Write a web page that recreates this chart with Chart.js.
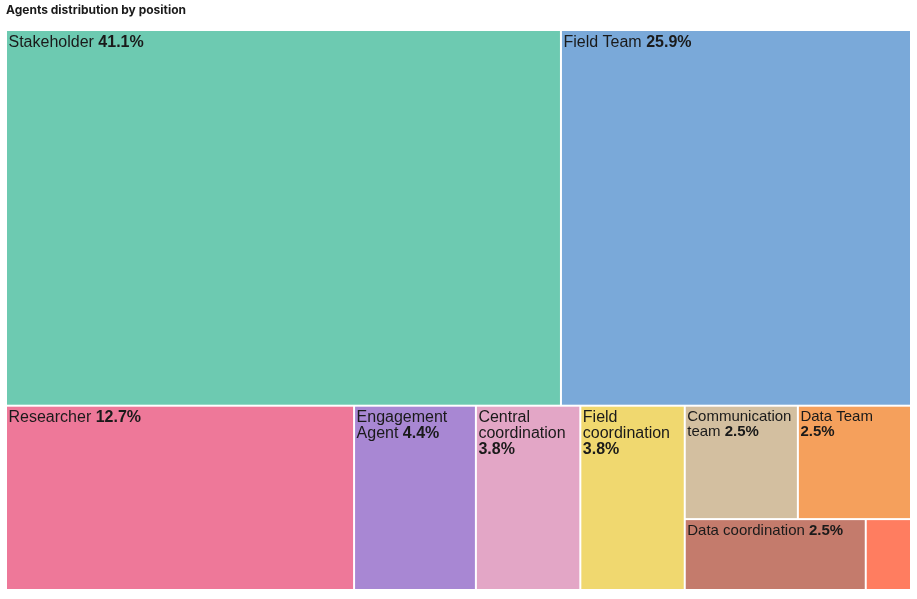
<!DOCTYPE html>
<html>
<head>
<meta charset="utf-8">
<script src="https://cdn.jsdelivr.net/npm/chart.js@4.4.0/dist/chart.umd.min.js"></script>
<style>
  html, body { margin: 0; padding: 0; background: #fff; }
  #wrap { width: 917px; height: 599px; }
</style>
</head>
<body>
<div id="wrap"><canvas id="tree"></canvas></div>
<script>
// agents per position (percentages come out of these counts)
const positions = ['Stakeholder', 'Field Team', 'Researcher', 'Engagement Agent', 'Central coordination',
  'Field coordination', 'Communication team', 'Data Team', 'Data coordination', 'Other'];
const agents = [65, 41, 20, 7, 6, 6, 4, 4, 4, 1];
const colors = ['#6dcab1', '#7aa9d9', '#ee7899', '#a887d3', '#e3a6c6',
  '#f0d86f', '#d3bfa0', '#f5a05c', '#c47b6c', '#ff7d60'];

const GOLDEN = (1 + Math.sqrt(5)) / 2;
const LABEL_FONT = "'Liberation Sans', Arial, sans-serif";

// squarified layout, biased toward wide cells (golden ratio)
function squarify(items, x0, y0, w, h, out) {
  if (!items.length) return;
  const vertical = w / GOLDEN <= h;
  const side = vertical ? w : h;
  let n = 0, prev = Infinity, sum = 0;
  while (n < items.length) {
    const s = sum + items[n].area;
    const thick = s / side;
    let worst = 0;
    for (let i = 0; i <= n; i++) {
      const len = items[i].area / thick;
      worst = Math.max(worst, len / thick, thick / len);
    }
    if (worst > prev) break;
    prev = worst; sum = s; n++;
  }
  const thick = sum / side;
  let pos = 0;
  for (let i = 0; i < n; i++) {
    const len = items[i].area / thick;
    if (vertical) out.push({ i: items[i].i, x: x0 + pos, y: y0, w: len, h: thick });
    else out.push({ i: items[i].i, x: x0, y: y0 + pos, w: thick, h: len });
    pos += len;
  }
  const rest = items.slice(n);
  if (vertical) squarify(rest, x0, y0 + thick, w, h - thick, out);
  else squarify(rest, x0 + thick, y0, w - thick, h, out);
}

function wrapTokens(ctx, tokens, size, maxW) {
  const lines = [];
  let line = [], lineW = 0;
  ctx.font = size + 'px ' + LABEL_FONT;
  const space = ctx.measureText(' ').width;
  for (const t of tokens) {
    ctx.font = (t.bold ? 'bold ' : '') + size + 'px ' + LABEL_FONT;
    const tw = ctx.measureText(t.text).width;
    if (tw > maxW) return null;
    const add = line.length ? space + tw : tw;
    if (line.length && lineW + add > maxW) {
      lines.push(line);
      line = [t]; lineW = tw;
    } else {
      line.push(t); lineW += add;
    }
    t.w = tw;
  }
  if (line.length) lines.push(line);
  return { lines, space };
}

const treemapPlugin = {
  id: 'treemap',
  afterDatasetsDraw(chart) {
    const { ctx, chartArea, scales: { x, y } } = chart;
    const W = chartArea.right - chartArea.left;
    const H = chartArea.bottom - chartArea.top;
    const total = agents.reduce((a, b) => a + b, 0);
    const items = agents.map((v, i) => ({ i, v, area: v / total * W * H }))
      .sort((a, b) => b.v - a.v);
    const cells = [];
    squarify(items, 0, 0, W, H, cells);

    ctx.save();
    cells.forEach(c => {
      const left = x.getPixelForValue(c.x / W);
      const right = x.getPixelForValue((c.x + c.w) / W);
      const top = y.getPixelForValue(c.y / H);
      const bottom = y.getPixelForValue((c.y + c.h) / H);
      ctx.fillStyle = colors[c.i];
      ctx.fillRect(left + 1, top + 1, right - left - 2, bottom - top - 2);

      // label: name words + bold share
      const pct = (agents[c.i] / total * 100).toFixed(1) + '%';
      const tokens = positions[c.i].split(' ').map(t => ({ text: t, bold: false }));
      tokens.push({ text: pct, bold: true });
      const cw = right - left, ch = bottom - top;
      const size = Math.min(16, Math.floor(Math.sqrt(cw * ch) / 7.5));
      if (size < 10) return;
      const wrapped = wrapTokens(ctx, tokens, size, cw - 5);
      if (!wrapped || wrapped.lines.length * size + 4 > ch) return;
      ctx.fillStyle = '#1a1a1a';
      ctx.textBaseline = 'alphabetic';
      wrapped.lines.forEach((line, li) => {
        let tx = left + 2.5;
        const ty = top + size + 0.5 + li * size;
        line.forEach(t => {
          ctx.font = (t.bold ? 'bold ' : '') + size + 'px ' + LABEL_FONT;
          ctx.fillText(t.text, tx, ty);
          tx += t.w + wrapped.space;
        });
      });
    });
    ctx.restore();
  }
};

new Chart(document.getElementById('tree'), {
  type: 'scatter',
  data: {
    labels: positions,
    datasets: [{ label: 'Agents', data: [] }]
  },
  options: {
    responsive: true,
    maintainAspectRatio: false,
    animation: false,
    layout: { padding: { left: 6, right: 6, top: 0, bottom: 9 } },
    scales: {
      x: { type: 'linear', min: 0, max: 1, display: false },
      y: { type: 'linear', min: 0, max: 1, reverse: true, display: false }
    },
    plugins: {
      legend: { display: false },
      tooltip: { enabled: false },
      title: {
        display: true,
        text: 'Agents distribution by position',
        align: 'start',
        color: '#1a1a1a',
        font: { family: 'Inter', size: 12, weight: 'bold' },
        padding: { top: 3.5, bottom: 12.1 }
      }
    }
  },
  plugins: [treemapPlugin]
});
</script>
</body>
</html>
